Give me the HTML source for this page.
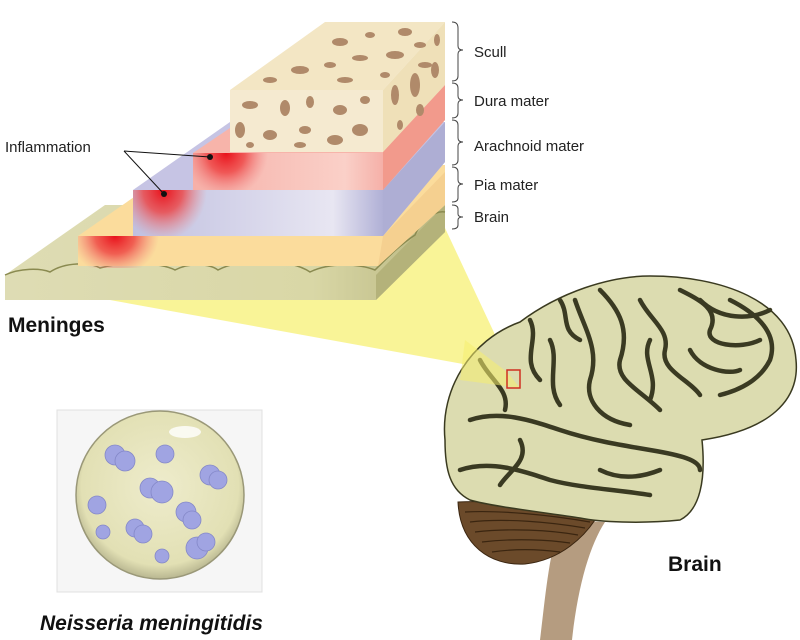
<!DOCTYPE html>
<html><head><meta charset="utf-8"><style>
html,body{margin:0;padding:0;background:#fff;}
svg{display:block;}
text{font-family:"Liberation Sans",sans-serif;}
</style></head><body>
<svg width="800" height="640" viewBox="0 0 800 640" xmlns="http://www.w3.org/2000/svg">
<defs>
<radialGradient id="inf" cx="0.5" cy="0.5" r="0.5">
<stop offset="0" stop-color="#e8101a"/><stop offset="0.45" stop-color="#ee4040" stop-opacity="0.8"/><stop offset="1" stop-color="#f08080" stop-opacity="0"/>
</radialGradient>
<linearGradient id="pia" x1="0" x2="1"><stop offset="0" stop-color="#c0c0e0"/><stop offset="0.8" stop-color="#e8e6f2"/><stop offset="1" stop-color="#b0b0d6"/></linearGradient>
<linearGradient id="dura" x1="0" x2="1"><stop offset="0" stop-color="#f6b0a8"/><stop offset="0.8" stop-color="#fad0c8"/><stop offset="1" stop-color="#f5b0a8"/></linearGradient>
<linearGradient id="base" x1="0" x2="1"><stop offset="0" stop-color="#dedcb4"/><stop offset="0.7" stop-color="#d9d7a6"/><stop offset="1" stop-color="#b8b680"/></linearGradient>
<radialGradient id="dish" cx="0.5" cy="0.45" r="0.55"><stop offset="0" stop-color="#eeeccc"/><stop offset="0.85" stop-color="#e2e0b4"/><stop offset="1" stop-color="#b8b690"/></radialGradient>
<clipPath id="cy"><rect x="78" y="236" width="300" height="32"/></clipPath>
<clipPath id="cp"><rect x="133" y="190" width="250" height="46"/></clipPath>
<clipPath id="cd"><rect x="193" y="153" width="190" height="37"/></clipPath>
</defs>

<!-- yellow cone -->
<polygon points="445,228 376,300 110,300 507,372 520,388" fill="#f8f38c" opacity="0.9"/>

<!-- base green -->
<polygon points="5,275 105,205 445,205 445,232 376,300 5,300" fill="url(#base)"/>
<polygon points="376,300 445,232 445,205 376,275" fill="#b4b27a"/>
<path d="M5,275 C20,268 40,268 50,272 C65,262 90,262 100,268 C120,262 160,262 175,270 C190,262 210,264 218,270 C240,258 290,258 310,272 C330,262 360,264 375,270 C390,255 400,245 415,235 C420,222 435,210 445,212" fill="none" stroke="#8a8a50" stroke-width="1.5"/>

<!-- yellow brain layer -->
<polygon points="78,236 180,165 445,165 445,205 378,266 78,266" fill="#fbdc9c"/>
<polygon points="383,236 445,172 445,205 378,266" fill="#f5d090"/>

<!-- pia (purple) -->
<polygon points="133,190 230,122 445,122 445,162 383,236 133,236" fill="#c6c4e4"/>
<rect x="133" y="190" width="250" height="46" fill="url(#pia)"/>
<polygon points="383,190 445,122 445,162 383,236" fill="#aeaed4"/>

<!-- dura (pink) -->
<polygon points="193,153 230,128 445,85 445,120 380,190 193,190" fill="#f7b4aa"/>
<rect x="193" y="153" width="190" height="37" fill="url(#dura)"/>
<polygon points="383,152 445,85 445,120 383,190" fill="#f29a8c"/>

<!-- inflammation spots -->
<ellipse cx="115" cy="236" rx="44" ry="40" fill="url(#inf)" clip-path="url(#cy)"/>
<ellipse cx="163" cy="190" rx="44" ry="50" fill="url(#inf)" clip-path="url(#cp)"/>
<ellipse cx="226" cy="153" rx="42" ry="44" fill="url(#inf)" clip-path="url(#cd)"/>

<!-- skull -->
<polygon points="230,90 325,22 445,22 383,90" fill="#f3e6c4"/>
<polygon points="383,90 445,22 445,85 383,152" fill="#efe0b8"/>
<rect x="230" y="90" width="153" height="62" fill="#f5ead0"/>
<g fill="#b08a6a">
<ellipse cx="340" cy="42" rx="8" ry="4"/><ellipse cx="370" cy="35" rx="5" ry="3"/><ellipse cx="405" cy="32" rx="7" ry="4"/><ellipse cx="300" cy="70" rx="9" ry="4"/><ellipse cx="330" cy="65" rx="6" ry="3"/><ellipse cx="360" cy="58" rx="8" ry="3"/><ellipse cx="395" cy="55" rx="9" ry="4"/><ellipse cx="420" cy="45" rx="6" ry="3"/><ellipse cx="270" cy="80" rx="7" ry="3"/><ellipse cx="345" cy="80" rx="8" ry="3"/><ellipse cx="385" cy="75" rx="5" ry="3"/><ellipse cx="425" cy="65" rx="7" ry="3"/>
<ellipse cx="250" cy="105" rx="8" ry="4"/><ellipse cx="285" cy="108" rx="5" ry="8"/><ellipse cx="310" cy="102" rx="4" ry="6"/><ellipse cx="340" cy="110" rx="7" ry="5"/><ellipse cx="365" cy="100" rx="5" ry="4"/><ellipse cx="240" cy="130" rx="5" ry="8"/><ellipse cx="270" cy="135" rx="7" ry="5"/><ellipse cx="305" cy="130" rx="6" ry="4"/><ellipse cx="335" cy="140" rx="8" ry="5"/><ellipse cx="360" cy="130" rx="8" ry="6"/><ellipse cx="250" cy="145" rx="4" ry="3"/><ellipse cx="300" cy="145" rx="6" ry="3"/>
<ellipse cx="395" cy="95" rx="4" ry="10"/><ellipse cx="415" cy="85" rx="5" ry="12"/><ellipse cx="435" cy="70" rx="4" ry="8"/><ellipse cx="420" cy="110" rx="4" ry="6"/><ellipse cx="400" cy="125" rx="3" ry="5"/><ellipse cx="437" cy="40" rx="3" ry="6"/>
</g>

<!-- braces -->
<g fill="none" stroke="#444" stroke-width="1">
<path d="M452,22 Q458,22 458,28 L458,46 Q458,50 463,50 Q458,50 458,54 L458,76 Q458,81 452,81"/>
<path d="M452,83 Q458,83 458,88 L458,96 Q458,100 463,100 Q458,100 458,104 L458,113 Q458,118 452,118"/>
<path d="M452,120 Q458,120 458,125 L458,138 Q458,142 463,142 Q458,142 458,146 L458,160 Q458,165 452,165"/>
<path d="M452,167 Q458,167 458,172 L458,180 Q458,184 463,184 Q458,184 458,188 L458,198 Q458,202 452,202"/>
<path d="M452,205 Q458,205 458,209 L458,214 Q458,217 463,217 Q458,217 458,220 L458,225 Q458,229 452,229"/>
</g>
<g font-size="15" fill="#222">
<text x="474" y="57">Scull</text>
<text x="474" y="106">Dura mater</text>
<text x="474" y="151">Arachnoid mater</text>
<text x="474" y="190">Pia mater</text>
<text x="474" y="222">Brain</text>
<text x="5" y="152">Inflammation</text>
</g>
<g stroke="#111" stroke-width="1"><line x1="124" y1="151" x2="210" y2="157"/><line x1="124" y1="151" x2="164" y2="194"/></g>
<circle cx="210" cy="157" r="3" fill="#111"/><circle cx="164" cy="194" r="3" fill="#111"/>
<text x="8" y="332" font-size="21" font-weight="bold" fill="#111">Meninges</text>

<!-- brain -->
<path d="M560,520 L605,522 C590,545 578,585 572,640 L540,640 C545,600 548,560 560,520 Z" fill="#b59c80"/>
<path d="M458,502 C460,545 490,566 525,564 C562,560 585,535 595,520 C560,508 500,500 458,502 Z" fill="#6b4a2a" stroke="#3a2510"/>
<g stroke="#3a2510" fill="none" stroke-width="1.2">
<path d="M465,512 C500,510 550,515 590,522"/><path d="M470,522 C505,518 550,522 585,528"/><path d="M475,532 C510,528 550,530 578,535"/><path d="M482,542 C515,538 550,540 570,543"/><path d="M492,552 C520,548 545,550 560,552"/>
</g>
<path d="M445,440 C440,390 470,340 520,322 C560,292 610,276 650,276 C720,276 792,300 796,360 C800,400 770,430 702,440 C706,480 700,510 680,520 C640,524 600,522 580,518 C540,512 490,506 470,500 C450,490 445,470 445,440 Z" fill="#dcdcb0" stroke="#3a3a20" stroke-width="1.5"/>
<g fill="none" stroke="#3a3a22" stroke-width="4.5" stroke-linecap="round">
<path d="M530,320 C540,340 520,360 540,380"/><path d="M575,300 C585,330 600,350 590,380 C585,400 600,420 630,425"/>
<path d="M600,290 C620,310 630,330 620,360 C615,380 640,390 660,410"/><path d="M640,300 C650,320 670,330 665,350 C660,370 690,380 700,395"/>
<path d="M680,290 C700,300 720,310 710,330 C705,345 740,350 760,340"/><path d="M730,300 C750,310 780,330 770,360 C760,380 740,390 720,395"/>
<path d="M470,420 C500,410 530,420 560,430 C590,440 620,445 650,450 C680,455 700,460 700,470"/>
<path d="M460,470 C490,460 520,470 550,480 C580,488 620,490 650,495"/>
<path d="M480,360 C490,380 510,390 505,410"/><path d="M550,340 C560,360 545,385 560,405"/>
<path d="M650,340 C640,360 660,375 650,400"/><path d="M690,350 C700,370 730,375 740,370"/>
<path d="M600,470 C620,480 640,478 660,470"/><path d="M520,440 C530,460 510,470 500,485"/>
<path d="M700,300 C720,320 750,320 770,310"/><path d="M560,300 C570,315 560,330 580,340"/>
</g>
<path d="M465,340 L507,372 L520,388 L460,380 Z" fill="#f5ef70" opacity="0.55"/>
<rect x="507" y="370" width="13" height="18" fill="none" stroke="#d03020" stroke-width="1.5"/>
<text x="668" y="571" font-size="21" font-weight="bold" fill="#111">Brain</text>

<!-- bacteria -->
<rect x="57" y="410" width="205" height="182" fill="#f6f6f6" stroke="#e0e0e0"/>
<circle cx="160" cy="495" r="84" fill="url(#dish)" stroke="#9a9878" stroke-width="1.5"/>
<ellipse cx="185" cy="432" rx="16" ry="6" fill="#fff" opacity="0.8"/>
<g fill="#a0a4e2" stroke="#8488c8" stroke-width="0.8">
<circle cx="115" cy="455" r="10"/><circle cx="125" cy="461" r="10"/>
<circle cx="165" cy="454" r="9"/>
<circle cx="210" cy="475" r="10"/><circle cx="218" cy="480" r="9"/>
<circle cx="150" cy="488" r="10"/><circle cx="162" cy="492" r="11"/>
<circle cx="97" cy="505" r="9"/>
<circle cx="186" cy="512" r="10"/><circle cx="192" cy="520" r="9"/>
<circle cx="135" cy="528" r="9"/><circle cx="143" cy="534" r="9"/>
<circle cx="197" cy="548" r="11"/><circle cx="206" cy="542" r="9"/>
<circle cx="162" cy="556" r="7"/><circle cx="103" cy="532" r="7"/>
</g>
<text x="40" y="630" font-size="21" font-weight="bold" font-style="italic" fill="#111">Neisseria meningitidis</text>
</svg>
</body></html>
